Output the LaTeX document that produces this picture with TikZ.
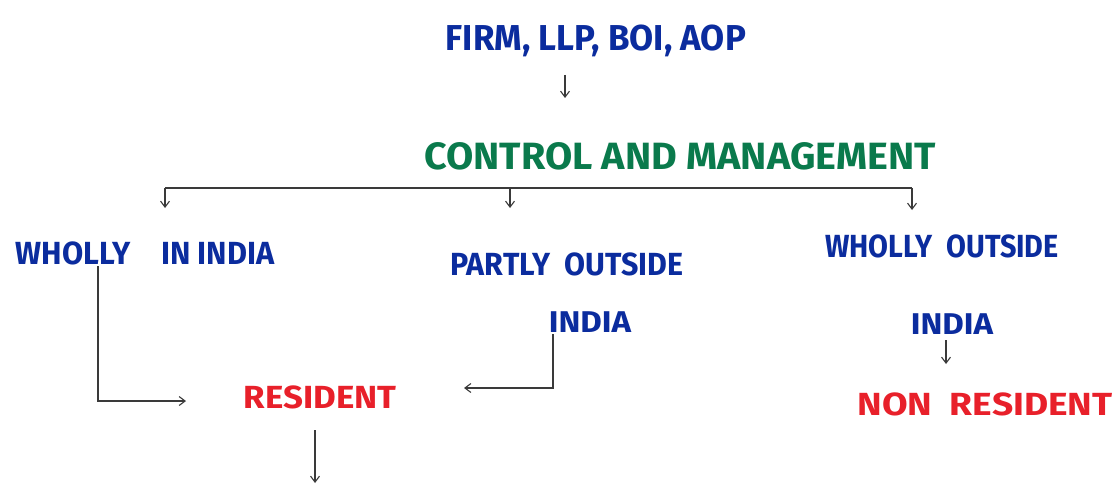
\documentclass[tikz,border=0pt]{standalone}
\usepackage{fontspec}
\setmainfont{Fira Sans}
\usetikzlibrary{arrows.meta}
\definecolor{inkblue}{HTML}{0B2C9E}
\definecolor{inkgreen}{HTML}{0A7A4C}
\definecolor{inkred}{HTML}{E8202A}
\definecolor{pencil}{HTML}{3A3A3A}
\tikzset{
  blu/.style={text=inkblue,inner sep=0pt,anchor=center},
  grn/.style={text=inkgreen,inner sep=0pt,anchor=center},
  rd/.style={text=inkred,inner sep=0pt,anchor=center},
  conn/.style={draw=pencil,line width=1.1pt,-{Straight Barb[length=6pt,width=9pt]}},
  plain/.style={draw=pencil,line width=1.1pt}
}
\begin{document}
\begin{tikzpicture}[x=1pt,y=-1pt]
\useasboundingbox (0,0) rectangle (1120,495);
\fill[white] (0,0) rectangle (1120,495);
% texts
\node[blu,xscale=0.97,font=\bfseries\fontsize{36}{38}\selectfont] (top) at (596,41) {FIRM, LLP, BOI, AOP};
\node[grn,xscale=1.04,font=\bfseries\fontsize{38}{40}\selectfont] (cm) at (680,156) {CONTROL AND MANAGEMENT};
\node[blu,xscale=0.96,font=\bfseries\fontsize{32}{34}\selectfont] (wi) at (145,253) {WHOLLY\quad IN INDIA};
\node[blu,xscale=0.95,font=\bfseries\fontsize{32}{34}\selectfont] (po) at (567,264) {PARTLY\ \ OUTSIDE};
\node[blu,xscale=1.1,font=\bfseries\fontsize{30}{32}\selectfont] (poi) at (590,322) {INDIA};
\node[blu,xscale=0.9,font=\bfseries\fontsize{32}{34}\selectfont] (wo) at (942,246) {WHOLLY\ \ OUTSIDE};
\node[blu,xscale=1.1,font=\bfseries\fontsize{30}{32}\selectfont] (woi) at (952,324) {INDIA};
\node[rd,xscale=1.09,font=\bfseries\fontsize{32}{34}\selectfont] (res) at (320,397) {RESIDENT};
\node[rd,xscale=1.16,font=\bfseries\fontsize{32}{34}\selectfont] (nres) at (985,404) {NON\ \ RESIDENT};
% coordinates
\coordinate (a1) at (565,75);
\coordinate (a2) at (565,98);
\coordinate (hl) at (165,188);
\coordinate (hm) at (510,188);
\coordinate (hr) at (912,188);
\coordinate (tl) at (165,208);
\coordinate (tm) at (510,208);
\coordinate (tr) at (912,210);
\coordinate (w1) at (98,266);
\coordinate (w2) at (98,401);
\coordinate (w3) at (186,401);
\coordinate (p1) at (553,334);
\coordinate (p2) at (553,388);
\coordinate (p3) at (464,388);
\coordinate (r1) at (315,430);
\coordinate (r2) at (315,483);
\coordinate (n1) at (946,340);
\coordinate (n2) at (946,364);
% connectors
\draw[conn] (a1) -- (a2);
\draw[plain] (hl) -- (hr);
\draw[conn] (hl) -- (tl);
\draw[conn] (hm) -- (tm);
\draw[conn] (hr) -- (tr);
\draw[conn] (w1) -- (w2) -- (w3);
\draw[conn] (p1) -- (p2) -- (p3);
\draw[conn] (r1) -- (r2);
\draw[conn] (n1) -- (n2);
\end{tikzpicture}
\end{document}
